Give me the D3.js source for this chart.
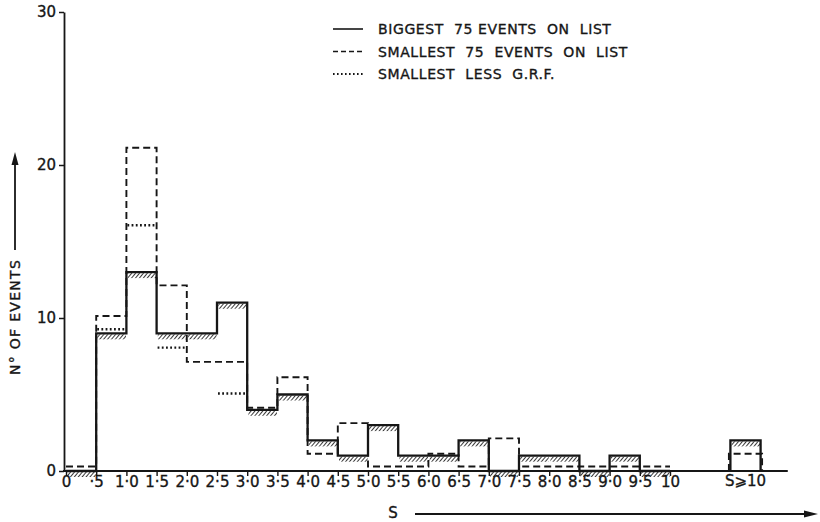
<!DOCTYPE html>
<html>
<head>
<meta charset="utf-8">
<script src="https://cdn.jsdelivr.net/npm/d3@7"></script>
<style>
  html, body { margin: 0; padding: 0; background: #fff; }
  svg { display: block; }
  text { font-family: "DejaVu Sans", sans-serif; fill: #161616; stroke: #161616; stroke-width: 0.35px; }
</style>
</head>
<body>
<svg id="chart" width="820" height="522"></svg>
<script>
// Class edges along S (class width 0.5) and their printed labels
const binEdges = [0, 0.5, 1, 1.5, 2, 2.5, 3, 3.5, 4, 4.5, 5, 5.5, 6, 6.5, 7, 7.5, 8, 8.5, 9, 9.5, 10];
const tickLabels = ["0", "·5", "1·0", "1·5", "2·0", "2·5", "3·0", "3·5", "4·0", "4·5", "5·0",
                    "5·5", "6·0", "6·5", "7·0", "7·5", "8·0", "8·5", "9·0", "9·5", "10"];
const yTicks = [0, 10, 20, 30];

// Number of events per class, 0–·5 … 9·5–10
const biggest75       = [0, 9, 13, 9, 9, 11, 4, 5, 2, 1, 3, 1, 1, 2, 0, 1, 1, 0, 1, 0];
const smallest75      = [0, 10, 21, 12, 7, 7, 4, 6, 1, 3, 0, 0, 1, 0, 2, 0, 0, 0, 0, 0];
const smallestLessGRF = [0, 9, 16, 8, 7, 5, 4, 6, 1, 3, 0, 0, 1, 0, 2, 0, 0, 0, 0, 0];

// Open-ended class S >= 10
const overflowLabel = "S⩾10";
const overflowBiggest = 2;
const overflowSmallest = 1;
const overflowGRF = 1;

const legendLabels = ["BIGGEST  75 EVENTS  ON  LIST", "SMALLEST  75  EVENTS  ON  LIST", "SMALLEST  LESS  G.R.F."];

const svg = d3.select("#chart");
const ink = "#161616";

const x = d3.scaleLinear().domain([0, 10]).range([66, 670]);
const y = d3.scaleLinear().domain([0, 30]).range([471, 12]);
const overflowBin = [11, 11.5];   // where the S>=10 class sits on the S axis
const axisEnd = 11.95;

// diagonal hatching drawn under the solid histogram
const defs = svg.append("defs");
defs.append("pattern")
  .attr("id", "hatch")
  .attr("patternUnits", "userSpaceOnUse")
  .attr("width", 3).attr("height", 3)
  .attr("patternTransform", "rotate(40)")
  .append("line")
  .attr("x1", 0).attr("y1", 0).attr("x2", 0).attr("y2", 3)
  .attr("stroke", ink).attr("stroke-width", 1.7);

// ---- axes ----
const yAxis = d3.axisLeft(y).tickValues(yTicks).tickSize(5).tickSizeOuter(0).tickPadding(3)
  .tickFormat(d3.format("d"));
const gy = svg.append("g").attr("transform", `translate(${x(0) - 2},0)`).call(yAxis);
gy.select(".domain").attr("stroke", ink).attr("stroke-width", 1.8);
gy.selectAll(".tick line").attr("stroke", ink).attr("stroke-width", 1.5);
gy.selectAll(".tick text").attr("font-size", 15).attr("font-family", "DejaVu Sans").attr("fill", ink);

const xAxis = d3.axisBottom(x).tickValues(binEdges).tickSize(5).tickSizeOuter(0).tickPadding(0)
  .tickFormat((d, i) => tickLabels[i]);
const gx = svg.append("g").attr("transform", `translate(0,${y(0)})`).call(xAxis);
gx.select(".domain").remove();
gx.selectAll(".tick line").attr("stroke", ink).attr("stroke-width", 1.4);
gx.selectAll(".tick text").attr("font-size", 15).attr("font-family", "DejaVu Sans").attr("fill", ink);

// baseline runs on past the S>=10 class
svg.append("line")
  .attr("x1", x(0) - 3).attr("x2", x(axisEnd))
  .attr("y1", y(0)).attr("y2", y(0))
  .attr("stroke", ink).attr("stroke-width", 1.8);

svg.append("text")
  .attr("x", x(d3.mean(overflowBin))).attr("y", y(0) + 9.5)
  .attr("text-anchor", "middle").attr("dominant-baseline", "central")
  .attr("font-size", 15).text(overflowLabel);

// ---- histograms ----
function stepPath(values, lift) {
  let p = "";
  values.forEach((v, i) => {
    const yy = y(v) - lift(v);
    if (i === 0) p += `M${x(binEdges[0])},${yy}`;
    else p += `V${yy}`;
    p += `H${x(binEdges[i + 1])}`;
  });
  return p;
}
function boxPath(v, lift, pad) {
  const yy = y(v) - lift(v);
  return `M${x(overflowBin[0]) - pad},${y(0)}V${yy}H${x(overflowBin[1]) + pad}V${y(0)}`;
}

// hatch bands below every horizontal run of the solid histogram
const hatchBins = biggest75.map((v, i) => ({ v, x0: binEdges[i], x1: binEdges[i + 1] }))
  .concat([{ v: overflowBiggest, x0: overflowBin[0], x1: overflowBin[1] }]);
svg.append("g").selectAll("rect").data(hatchBins).join("rect")
  .attr("x", d => x(d.x0) + 1.2)
  .attr("width", d => x(d.x1) - x(d.x0) - 1.6)
  .attr("y", d => y(d.v) + 1)
  .attr("height", 5)
  .attr("fill", "url(#hatch)");

const noLift = () => 0;
// dashed line sits just above the solid one; empty classes are raised off the baseline
const dashLift = v => (v === 0 ? 4.5 : 2);

svg.append("path")
  .attr("d", stepPath(smallest75, dashLift))
  .attr("fill", "none").attr("stroke", ink).attr("stroke-width", 1.9)
  .attr("stroke-dasharray", "7,4");
svg.append("path")
  .attr("d", boxPath(overflowSmallest, dashLift, 1.5))
  .attr("fill", "none").attr("stroke", ink).attr("stroke-width", 1.9)
  .attr("stroke-dasharray", "7,4");

svg.append("path")
  .attr("d", stepPath(biggest75, noLift))
  .attr("fill", "none").attr("stroke", ink).attr("stroke-width", 2.3);
svg.append("path")
  .attr("d", boxPath(overflowBiggest, noLift, 0))
  .attr("fill", "none").attr("stroke", ink).attr("stroke-width", 2.3);

// dotted runs only where the G.R.F.-corrected count differs from the dashed one
const dotRuns = smallestLessGRF.map((v, i) => ({ v, i }))
  .filter(d => d.v !== smallest75[d.i]);
svg.append("g").selectAll("line").data(dotRuns).join("line")
  .attr("x1", d => x(binEdges[d.i]) + 1)
  .attr("x2", d => x(binEdges[d.i + 1]) - 1)
  .attr("y1", d => y(d.v) - (d.v === biggest75[d.i] ? 4 : 1))
  .attr("y2", d => y(d.v) - (d.v === biggest75[d.i] ? 4 : 1))
  .attr("stroke", ink).attr("stroke-width", 2.4)
  .attr("stroke-dasharray", "1.8,2.4");

// ---- legend ----
const legendStyles = [
  { dash: null, width: 1.6 },
  { dash: "5,3", width: 1.5 },
  { dash: "1.6,2.4", width: 2 }
];
const lg = svg.append("g");
legendLabels.forEach((label, i) => {
  const ly = 29 + i * 22.5;
  lg.append("line")
    .attr("x1", 333).attr("x2", 363).attr("y1", ly).attr("y2", ly)
    .attr("stroke", ink).attr("stroke-width", legendStyles[i].width)
    .attr("stroke-dasharray", legendStyles[i].dash);
  lg.append("text")
    .attr("x", 378).attr("y", ly).attr("dominant-baseline", "central")
    .attr("font-size", 14).attr("letter-spacing", 0.6)
    .style("white-space", "pre")
    .text(label);
});

// ---- axis titles with arrows ----
const yTitleX = 15;
svg.append("text")
  .attr("transform", `translate(${yTitleX},317) rotate(-90)`)
  .attr("text-anchor", "middle").attr("dominant-baseline", "central")
  .attr("font-size", 14).attr("letter-spacing", 1.3)
  .text("N° OF EVENTS");
svg.append("line")
  .attr("x1", yTitleX).attr("x2", yTitleX).attr("y1", 250).attr("y2", 160)
  .attr("stroke", ink).attr("stroke-width", 1.8);
svg.append("path")
  .attr("d", `M${yTitleX},152L${yTitleX - 3.5},165L${yTitleX + 3.5},165Z`)
  .attr("fill", ink);

svg.append("text")
  .attr("x", 393).attr("y", 513)
  .attr("text-anchor", "middle").attr("dominant-baseline", "central")
  .attr("font-size", 15).text("S");
svg.append("line")
  .attr("x1", 415).attr("x2", 808).attr("y1", 514).attr("y2", 514)
  .attr("stroke", ink).attr("stroke-width", 1.8);
svg.append("path")
  .attr("d", "M818,514L804,510.5L804,517.5Z")
  .attr("fill", ink);
</script>
</body>
</html>
